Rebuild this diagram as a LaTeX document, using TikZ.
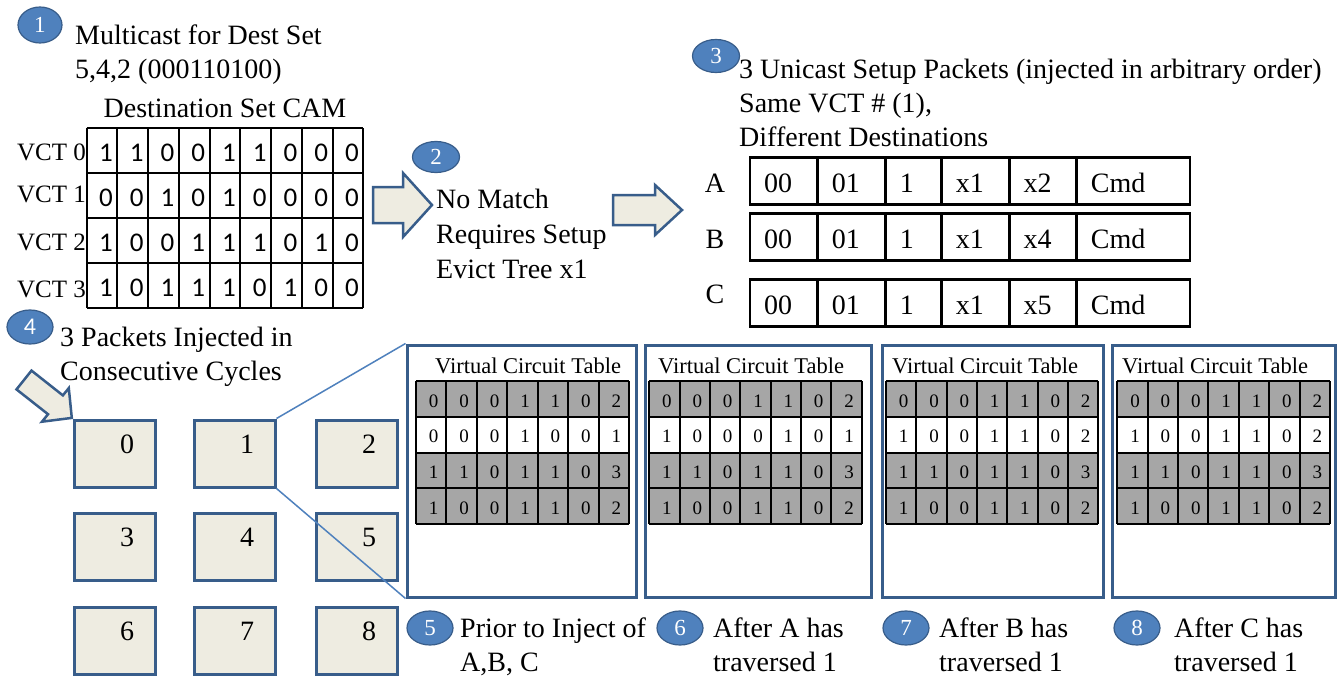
\documentclass[tikz,border=0pt]{standalone}
\usepackage{fontspec}
\setmainfont{Liberation Serif}
\newfontfamily\calfont{Carlito}
\usetikzlibrary{shapes.geometric,calc}
\definecolor{bluefill}{HTML}{4F81BD}
\definecolor{blueline}{HTML}{385D8A}
\definecolor{beige}{HTML}{EEECE1}
\definecolor{cellgray}{HTML}{A6A6A6}
\definecolor{zoomblue}{HTML}{4F81BD}

\newcommand\myvct[4]{%
  \pgfmathsetmacro\cw{(#3-#2)/7}%
  \foreach \rowdata [count=\r] in {#4} {%
    \pgfmathsetmacro\ytop{381+(\r-1)*35.8}%
    \ifnum\r=2 \else \fill[cellgray] (#2,\ytop) rectangle (#3,\ytop+35.8);\fi
    \foreach \v [count=\c] in \rowdata {%
      \node[vctnum] (#1-\r-\c) at ({#2+(\c-0.5)*\cw+2.5},{\ytop+17.9+2}) {\v};
    }
  }
  \foreach \i in {0,...,7} \draw[gridln] ({#2+\i*\cw},381) -- ({#2+\i*\cw},524.2);
  \foreach \i in {0,...,4} \draw[gridln] (#2,{381+\i*35.8}) -- (#3,{381+\i*35.8});
}
\newcommand\mypkt[5]{%
  \foreach \txt/\xa/\xb [count=\c] in {00/750/817.7, 01/817.7/885.7, 1/885.7/941.7, x1/941.7/1009.3, #4/1009.3/1076.7, Cmd/1076.7/1190} {%
    \draw[pktln] (\xa,#2) rectangle (\xb,#3);
    \node[bigtxt,anchor=base west] (#1-\c) at (\xa+14,#3-12) {\txt};
  }
}

\begin{document}
\begin{tikzpicture}[x=1pt,y=-1pt,
  numcirc/.style={ellipse,fill=bluefill,draw=blueline,line width=1.2pt,minimum width=46pt,minimum height=34pt,inner sep=0pt,text=white,font=\fontsize{23}{23}\selectfont},
  bigtxt/.style={font=\fontsize{28}{34}\selectfont,inner sep=0pt,align=left},
  vctlab/.style={font=\fontsize{25}{25}\selectfont,inner sep=0pt,anchor=base east},
  camnum/.style={font=\calfont\fontsize{27}{27}\selectfont,inner sep=0pt},
  vctnum/.style={font=\fontsize{19}{19}\selectfont,inner sep=0pt},
  gridln/.style={draw=black,line width=2pt},
  pktln/.style={draw=black,line width=2.5pt},
  blockarr/.style={fill=beige,draw=blueline,line width=2.5pt},
  router/.style={rectangle,fill=beige,draw=blueline,line width=3pt,minimum width=81pt,minimum height=67pt,inner sep=0pt},
  panel/.style={rectangle,fill=white,draw=blueline,line width=3pt,minimum height=252pt,inner sep=0pt},
  zoomln/.style={draw=zoomblue,line width=1.5pt},
  ttl/.style={font=\fontsize{22.5}{22.5}\selectfont,inner sep=0pt,anchor=base west}
]
\useasboundingbox[fill=white] (0,0) rectangle (1341,677);

% ---- step 1: CAM ----
\node[numcirc,minimum width=44pt,minimum height=36pt] (c1) at (40,25) {1};
\node[bigtxt,anchor=base west] (t1) at (75,78) {Multicast for Dest Set\\5,4,2 (000110100)};
\node[bigtxt,anchor=base] (camttl) at (225,117) {Destination Set CAM};
\foreach \lab/\yb [count=\i from 0] in {VCT 0/160, VCT 1/202, VCT 2/250, VCT 3/297}
  \node[vctlab] (vl\i) at (86,\yb) {\lab};
\foreach \rowdata [count=\r] in {{1,1,0,0,1,1,0,0,0},{0,0,1,0,1,0,0,0,0},{1,0,0,1,1,1,0,1,0},{1,0,1,1,1,0,1,0,0}} {
  \foreach \v [count=\c] in \rowdata
    \node[camnum] (cam-\r-\c) at ({86.7+(\c-0.5)*30.74+4},{128.3+(\r-0.5)*45+2}) {\v};
}
\foreach \i in {0,...,9} \draw[gridln] ({86.7+\i*30.74},128.3) -- ({86.7+\i*30.74},308.3);
\foreach \i in {0,...,4} \draw[gridln] (86.7,{128.3+\i*45}) -- (363.3,{128.3+\i*45});

% ---- step 2 ----
\filldraw[blockarr] (373,187) -- (403,187) -- (403,173) -- (432,205) -- (403,237) -- (403,223) -- (373,223) -- cycle;
\node[numcirc,minimum width=47pt,minimum height=31pt] (c2) at (436,157) {2};
\node[bigtxt,anchor=base west] (t2) at (436,278) {No Match\\[1pt]Requires Setup\\[1pt]Evict Tree x1};
\filldraw[blockarr] (613,195) -- (655,195) -- (655,185) -- (682,210) -- (655,235) -- (655,225) -- (613,225) -- cycle;

% ---- step 3 ----
\node[numcirc,minimum width=47pt,minimum height=33pt] (c3) at (716,56) {3};
\node[bigtxt,anchor=base west] (t3) at (739,146) {3 Unicast Setup Packets (injected in arbitrary order)\\Same VCT \# (1),\\Different Destinations};
\node[bigtxt,anchor=base] (pa) at (715,192) {A};
\node[bigtxt,anchor=base] (pb) at (715,248) {B};
\node[bigtxt,anchor=base] (pc) at (715,303) {C};
\mypkt{rowA}{157.3}{204.3}{x2}{}
\mypkt{rowB}{213.3}{260.7}{x4}{}
\mypkt{rowC}{279.3}{326.7}{x5}{}

% ---- step 4 ----
\node[numcirc,font=\calfont\fontsize{24}{24}\selectfont] (c4) at (30,327) {4};
\node[bigtxt,anchor=base west] (t4) at (60,380) {3 Packets Injected in\\Consecutive Cycles};
\filldraw[blockarr] (16.5,389.4) -- (31.5,370.6) -- (62.9,395.4) -- (68.8,388.1) -- (71.8,417.9) -- (42.0,421.7) -- (48.0,414.2) -- cycle;

\foreach \n/\x/\y in {0/114.5/453.5, 1/234.5/453.5, 2/356.5/453.5, 3/114.5/547, 4/234.5/547, 5/356.5/547, 6/114.5/641, 7/234.5/641, 8/356.5/641} {
  \node[router] (r\n) at (\x,\y) {};
  \node[bigtxt] (rl\n) at (\x+12.5,\y-9.5) {\n};
}

% ---- panels ----
\node[panel,minimum width=229pt] (p5) at (521.5,471) {};
\node[panel,minimum width=226pt] (p6) at (758,471) {};
\node[panel,minimum width=221pt] (p7) at (992.5,471) {};
\node[panel,minimum width=223pt] (p8) at (1223.5,471) {};
\draw[zoomln] (r1.north east) -- (p5.north west);
\draw[zoomln] (r1.south east) -- (p5.south west);

\node[ttl] (h5) at (435,373) {Virtual Circuit Table};
\node[ttl] (h6) at (658,373) {Virtual Circuit Table};
\node[ttl] (h7) at (892,373) {Virtual Circuit Table};
\node[ttl] (h8) at (1122,373) {Virtual Circuit Table};
\myvct{v5}{416}{629}{{0,0,0,1,1,0,2},{0,0,0,1,0,0,1},{1,1,0,1,1,0,3},{1,0,0,1,1,0,2}}
\myvct{v6}{649.3}{861.7}{{0,0,0,1,1,0,2},{1,0,0,0,1,0,1},{1,1,0,1,1,0,3},{1,0,0,1,1,0,2}}
\myvct{v7}{886}{1098.3}{{0,0,0,1,1,0,2},{1,0,0,1,1,0,2},{1,1,0,1,1,0,3},{1,0,0,1,1,0,2}}
\myvct{v8}{1117.3}{1330}{{0,0,0,1,1,0,2},{1,0,0,1,1,0,2},{1,1,0,1,1,0,3},{1,0,0,1,1,0,2}}

% ---- bottom labels ----
\node[numcirc] (c5) at (430,628) {5};
\node[bigtxt,anchor=base west] (t5) at (460,671) {Prior to Inject of\\A,B, C};
\node[numcirc] (c6) at (680,628) {6};
\node[bigtxt,anchor=base west] (t6) at (713,671) {After A has\\traversed 1};
\node[numcirc] (c7) at (906,628) {7};
\node[bigtxt,anchor=base west] (t7) at (939,671) {After B has\\traversed 1};
\node[numcirc] (c8) at (1137,628) {8};
\node[bigtxt,anchor=base west] (t8) at (1174,671) {After C has\\traversed 1};
\end{tikzpicture}
\end{document}
